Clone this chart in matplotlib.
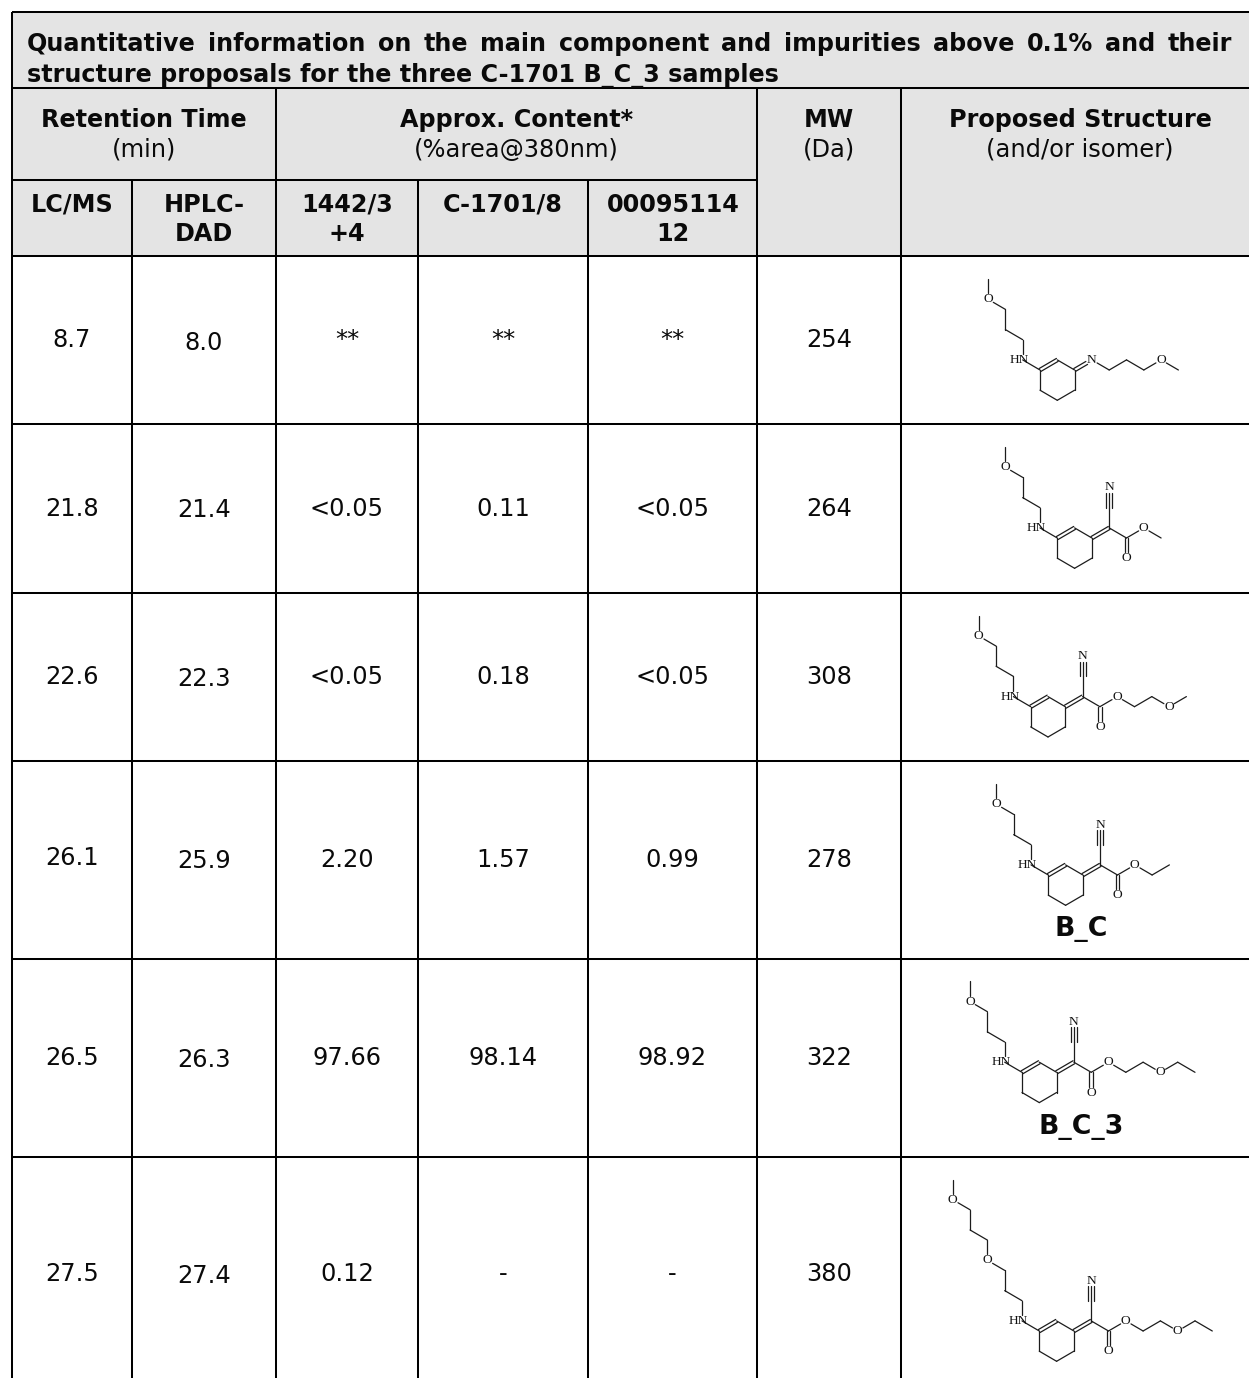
import matplotlib
matplotlib.use("Agg")
import matplotlib.pyplot as plt
from matplotlib.patches import Rectangle

W, H = 1249, 1378
title_line1 = "Quantitative information on the main component and impurities above 0.1% and their"
title_line2 = "structure proposals for the three C-1701 B_C_3 samples"
lcms = ["8.7", "21.8", "22.6", "26.1", "26.5", "27.5"]
hplc = ["8.0", "21.4", "22.3", "25.9", "26.3", "27.4"]
s1442 = ["**", "<0.05", "<0.05", "2.20", "97.66", "0.12"]
c1701 = ["**", "0.11", "0.18", "1.57", "98.14", "-"]
s0095 = ["**", "<0.05", "<0.05", "0.99", "98.92", "-"]
mw = ["254", "264", "308", "278", "322", "380"]
structure_names = ["", "", "", "B_C", "B_C_3", ""]

# grid (pixels)
xs = [12, 132, 276, 418, 588, 757, 901, 1249]
ys = [12, 88, 180, 256, 424, 593, 761, 959, 1157, 1378]
row_y = [340, 509, 677, 860, 1058, 1274]
lcms_dy = [0, 0, 0, -2, 0, 0]
hplc_dy = [3, 1, 2, 1, 2, 2]
mol_origin = [(1040, 370), (1057.3, 538), (1030.7, 706.7), (1048.3, 875), (1022, 1072.3), (1039.3, 1331)]
name_y = [None, None, None, 929, 1127, None]
GREY = "#E4E4E4"
INK = "#000000"
FS = 17.4
FSB = 17.2

fig = plt.figure(figsize=(W / 100, H / 100), dpi=100)
ax = fig.add_axes([0, 0, 1, 1])
ax.set_xlim(0, W)
ax.set_ylim(H, 0)
ax.axis("off")

def fill(x0, y0, x1, y1):
    ax.add_patch(Rectangle((x0, y0), x1 - x0, y1 - y0, fc=GREY, ec="none", zorder=0))

fill(xs[0], ys[0], W, ys[3])

def hl(y, x0=xs[0], x1=W):
    ax.plot([x0, x1], [y, y], color=INK, lw=1.45, solid_capstyle="butt", zorder=3)

def vl(x, y0, y1=H):
    ax.plot([x, x], [y0, y1], color=INK, lw=1.45, solid_capstyle="butt", zorder=3)

hl(ys[0])
hl(ys[1])
for y in ys[3:-1]:
    hl(y)
hl(ys[2], xs[0], xs[5])
vl(xs[0], ys[0])
vl(xs[1], ys[2])
vl(xs[2], ys[1])
vl(xs[3], ys[2])
vl(xs[4], ys[2])
vl(xs[5], ys[1])
vl(xs[6], ys[1])

def txt(x, y, s, bold=False, size=None, **k):
    if size is None:
        size = FSB if bold else FS
    return ax.text(x, y, s, ha="center", va="center", fontsize=size,
                   fontweight="bold" if bold else "normal", color="#0a0a0a",
                   family="DejaVu Sans", zorder=4, **k)

# justified title
renderer = fig.canvas.get_renderer()
words = title_line1.split()
x0, x1 = 27, 1232
objs = [ax.text(0, 44, w, ha="left", va="center", fontsize=FSB, fontweight="bold", family="DejaVu Sans", color="#0a0a0a", zorder=4) for w in words]
ws = [o.get_window_extent(renderer).width for o in objs]
gap = (x1 - x0 - sum(ws)) / (len(words) - 1)
cx = x0
for o, w in zip(objs, ws):
    o.set_x(cx)
    cx += w + gap
ax.text(27, 75, title_line2, ha="left", va="center", fontsize=FSB, fontweight="bold", family="DejaVu Sans", color="#0a0a0a", zorder=4)

# header
txt((xs[0] + xs[2]) / 2, 120, "Retention Time", True)
txt((xs[0] + xs[2]) / 2, 150, "(min)", False)
txt((xs[2] + xs[5]) / 2, 120, "Approx. Content*", True)
txt((xs[2] + xs[5]) / 2, 150, "(%area@380nm)")
txt((xs[5] + xs[6]) / 2, 120, "MW", True)
txt((xs[5] + xs[6]) / 2, 150, "(Da)")
txt(1080, 120, "Proposed Structure", True)
txt(1080, 150, "(and/or isomer)")
txt(72, 205, "LC/MS", True)
txt(204, 205, "HPLC-", True)
txt(204, 234, "DAD", True)
txt(347, 205, "1442/3", True)
txt(347, 234, "+4", True)
txt(503, 205, "C-1701/8", True)
txt(673, 205, "00095114", True)
txt(673, 234, "12", True)

# body
centers = [(xs[i] + xs[i + 1]) / 2 for i in range(6)]
for i in range(6):
    y = row_y[i]
    txt(centers[0], y + lcms_dy[i], lcms[i])
    txt(centers[1], y + hplc_dy[i], hplc[i])
    txt(centers[2], y, s1442[i])
    txt(centers[3], y, c1701[i])
    txt(centers[4], y, s0095[i])
    txt(centers[5], y, mw[i])
    if structure_names[i]:
        txt(1081, name_y[i], structure_names[i], True, 19.3)

# ---- skeletal formulas on a lattice (unit: bond projections) ----
UX, UY = 17.3, 10.1
RING = [(0, 0), (1, -1), (2, 0), (2, 2), (1, 3), (0, 2), (0, 0)]
SIDE_SHORT = [(-1, -1), (-1, -3), (-2, -4), (-2, -6), (-3, -7), (-3, -9)]
SIDE_LONG = SIDE_SHORT + [(-4, -10), (-4, -12), (-5, -13), (-5, -15)]
HETERO_SHORT = {(-1, -1): "HN", (-3, -7): "O"}
HETERO_LONG = {(-1, -1): "HN", (-3, -7): "O", (-5, -13): "O"}
IMINE_TAIL = [(3, -1), (4, 0), (5, -1), (6, 0), (7, -1), (8, 0)]
TAIL_ME = [(4, 0), (5, -1), (6, 0)]
TAIL_MEOET = [(4, 0), (5, -1), (6, 0), (7, -1), (8, 0), (9, -1)]
TAIL_ET = [(4, 0), (5, -1), (6, 0), (7, -1)]
TAIL_ETOET = [(4, 0), (5, -1), (6, 0), (7, -1), (8, 0), (9, -1), (10, 0)]
TAILS = [None, TAIL_ME, TAIL_MEOET, TAIL_ET, TAIL_ETOET, TAIL_ETOET]
TAIL_O = [None, [(5, -1)], [(5, -1), (8, 0)], [(5, -1)], [(5, -1), (8, 0)], [(5, -1), (8, 0)]]
SIDES = [SIDE_SHORT, SIDE_SHORT, SIDE_SHORT, SIDE_SHORT, SIDE_SHORT, SIDE_LONG]
SIDE_O = [HETERO_SHORT] * 5 + [HETERO_LONG]

LW = 0.9
LINE = "#1c1c1c"
DBL = 1.7

def bond(ox, oy, a, b, labelled=(), off=0.0, gap=6.0):
    xa, ya = ox + a[0] * UX, oy + a[1] * UY
    xb, yb = ox + b[0] * UX, oy + b[1] * UY
    dx, dy = xb - xa, yb - ya
    L = (dx * dx + dy * dy) ** 0.5
    ux, uy = dx / L, dy / L
    if a in labelled:
        xa += ux * gap; ya += uy * gap
    if b in labelled:
        xb -= ux * gap; yb -= uy * gap
    xa, xb = xa - uy * off, xb - uy * off
    ya, yb = ya + ux * off, yb + ux * off
    ax.plot([xa, xb], [ya, yb], color=LINE, lw=LW, solid_capstyle="round", zorder=2)

def atom(ox, oy, p, s, dx=0.0):
    ax.text(ox + p[0] * UX + dx, oy + p[1] * UY, s, ha="center", va="center", fontsize=9.6,
            family="Liberation Serif", color="#111111", zorder=2)

def path(ox, oy, pts, labelled):
    for a, b in zip(pts[:-1], pts[1:]):
        bond(ox, oy, a, b, labelled)

for i, (ox, oy) in enumerate(mol_origin):
    # ring
    for k, (a, b) in enumerate(zip(RING[:-1], RING[1:])):
        if k == 0:
            bond(ox, oy, a, b, off=DBL)
            bond(ox, oy, a, b, off=-DBL)
        else:
            bond(ox, oy, a, b)
    # amine side chain
    labs = dict(SIDE_O[i])
    bond(ox, oy, (0, 0), (-1, -1), (-1, -1), gap=7)
    path(ox, oy, SIDES[i], set(labs))
    for p, s in labs.items():
        atom(ox, oy, p, s, dx=-3.3 if s == "HN" else 0)
    if i == 0:
        bond(ox, oy, (2, 0), (3, -1), {(3, -1)}, off=DBL)
        bond(ox, oy, (2, 0), (3, -1), {(3, -1)}, off=-DBL)
        path(ox, oy, IMINE_TAIL, {(3, -1), (7, -1)})
        atom(ox, oy, (3, -1), "N")
        atom(ox, oy, (7, -1), "O")
    else:
        bond(ox, oy, (2, 0), (3, -1), off=DBL)
        bond(ox, oy, (2, 0), (3, -1), off=-DBL)
        # nitrile
        bond(ox, oy, (3, -1), (3, -3))
        for off in (-3.0, 0, 3.0):
            bond(ox, oy, (3, -3), (3, -5), {(3, -5)}, off=off, gap=5.5)
        atom(ox, oy, (3, -5), "N", dx=0)
        # ester
        bond(ox, oy, (3, -1), (4, 0))
        bond(ox, oy, (4, 0), (4, 2), {(4, 2)}, off=DBL)
        bond(ox, oy, (4, 0), (4, 2), {(4, 2)}, off=-DBL)
        atom(ox, oy, (4, 2), "O")
        labelled = set(TAIL_O[i])
        path(ox, oy, TAILS[i], labelled)
        for p in TAIL_O[i]:
            atom(ox, oy, p, "O")

fig.savefig("out.png", dpi=100)
